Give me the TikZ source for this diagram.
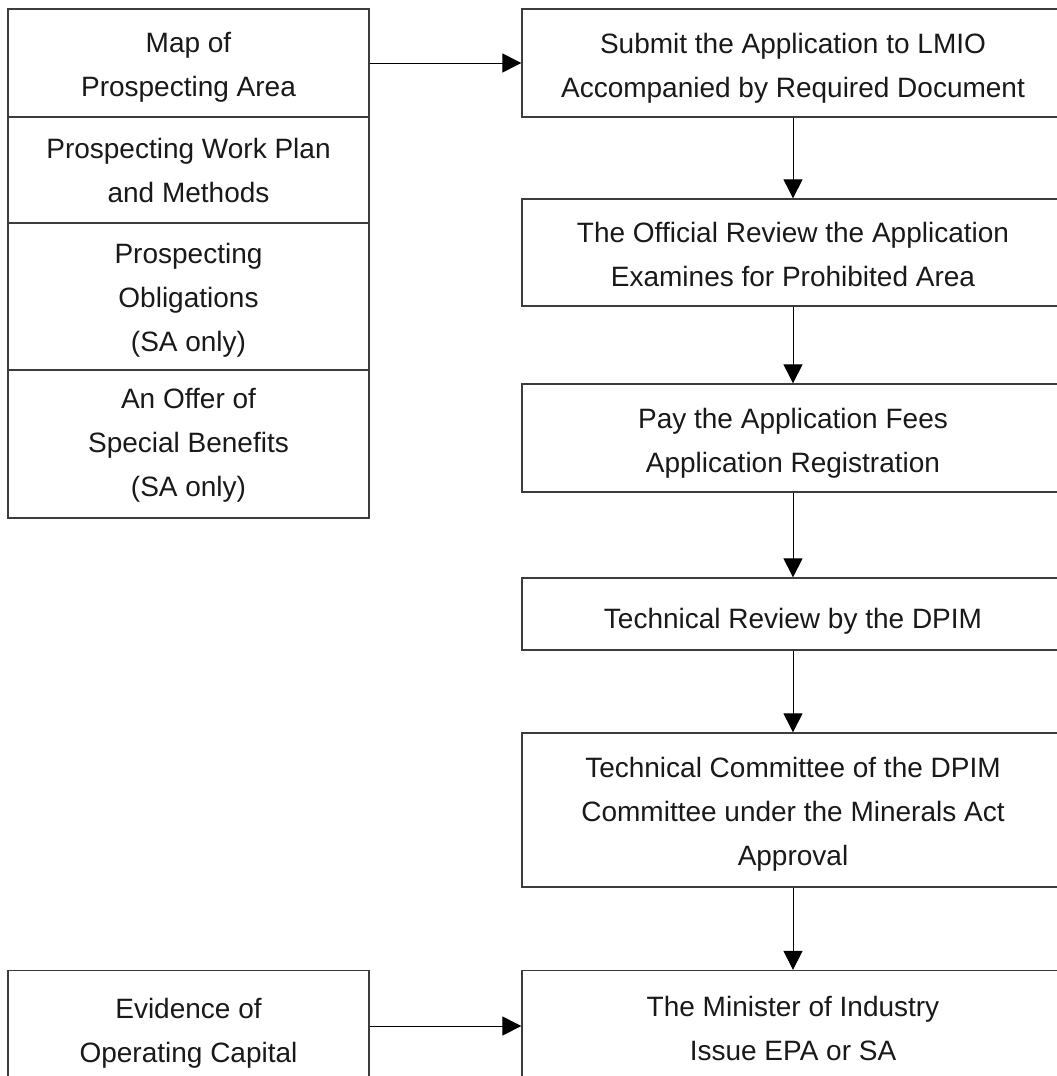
\documentclass[tikz,border=0pt]{standalone}
\usepackage{fontspec}
\setmainfont{Liberation Sans}
\usetikzlibrary{arrows.meta}
\begin{document}
\begin{tikzpicture}[x=1pt,y=-1pt,
  box/.style={draw={rgb,255:red,60;green,60;blue,60}, line width=1.3pt, rectangle, inner sep=0pt},
  lab/.style={align=center, inner sep=0pt, font=\fontsize{28}{44}\selectfont, text={rgb,255:red,25;green,25;blue,25}},
  lbox/.style={box, minimum width=361pt},
  rbox/.style={box, minimum width=542pt},
  arr/.style={draw=black, line width=1pt, -{Triangle[length=19pt,width=19pt]}}]
\useasboundingbox (0,0) rectangle (1057,1076);
\clip (0,0) rectangle (1057,1076);
% left stacked boxes
\node[lbox, minimum height=108pt, label={[lab,yshift=-4pt]center:{Map of\\Prospecting Area}}] (m1) at (188.5,63) {};
\node[lbox, minimum height=106pt, label={[lab,yshift=0pt]center:{Prospecting Work Plan\\and Methods}}] (m2) at (188.5,170) {};
\node[lbox, minimum height=147pt, label={[lab,yshift=-4pt]center:{Prospecting\\Obligations\\(SA only)}}] (m3) at (188.5,296.5) {};
\node[lbox, minimum height=148pt, label={[lab,yshift=-1pt]center:{An Offer of\\Special Benefits\\(SA only)}}] (m4) at (188.5,444) {};
\node[lbox, minimum height=119pt, label={[lab,yshift=-3pt]center:{Evidence of\\Operating Capital}}] (ev) at (188.5,1030) {};
% right flow
\node[rbox, minimum height=108pt, label={[lab,yshift=-5pt]center:{Submit the Application to LMIO\\Accompanied by Required Document}}] (s1) at (793,63) {};
\node[rbox, minimum height=107pt, label={[lab,yshift=-2pt]center:{The Official Review the Application\\Examines for Prohibited Area}}] (s2) at (793,252.5) {};
\node[rbox, minimum height=108pt, label={[lab,yshift=-5pt]center:{Pay the Application Fees\\Application Registration}}] (s3) at (793,438) {};
\node[rbox, minimum height=72pt, label={[lab,yshift=-7pt]center:{Technical Review by the DPIM}}] (s4) at (793,614) {};
\node[rbox, minimum height=154pt, label={[lab,yshift=-4pt]center:{Technical Committee of the DPIM\\Committee under the Minerals Act\\Approval}}] (s5) at (793,810) {};
\node[rbox, minimum height=115pt, label={[lab,yshift=0pt]center:{The Minister of Industry\\Issue EPA or SA}}] (s6) at (793,1028) {};
% connectors
\draw[arr] (m1) -- (s1);
\draw[arr] (s1) -- (s2);
\draw[arr] (s2) -- (s3);
\draw[arr] (s3) -- (s4);
\draw[arr] (s4) -- (s5);
\draw[arr] (s5) -- (s6);
\draw[arr] (ev.east |- 0,1026) -- (s6.west |- 0,1026);
\end{tikzpicture}
\end{document}
